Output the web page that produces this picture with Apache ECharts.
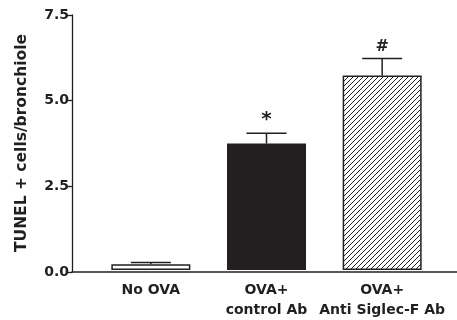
<!DOCTYPE html>
<html><head><meta charset="utf-8">
<script src="https://cdn.jsdelivr.net/npm/echarts@6/dist/echarts.min.js"></script>
<style>html,body{margin:0;padding:0;background:#fff}#c{width:457px;height:320px}</style>
</head><body><div id="c"></div>
<script>
const categories = ['No OVA', 'OVA+\ncontrol Ab', 'OVA+\nAnti Siglec-F Ab'];
const means = [0.17, 3.72, 5.72];
const sems = [0.05, 0.30, 0.50];
const marks = ['', '*', '#'];
const yTicks = [0, 2.5, 5.0, 7.5];

const ink = '#231f20';
const pc = document.createElement('canvas');
pc.width = 5; pc.height = 5;
const g = pc.getContext('2d');
g.fillStyle = '#fff'; g.fillRect(0,0,5,5);
g.strokeStyle = ink; g.lineWidth = 1.0;
g.beginPath();
g.moveTo(-1,6); g.lineTo(6,-1);
g.moveTo(-1,1); g.lineTo(1,-1);
g.moveTo(4,6); g.lineTo(6,4);
g.stroke();

const font = 'DejaVu Sans';
const chart = echarts.init(document.getElementById('c'));
chart.setOption({
  animation: false,
  backgroundColor: '#fff',
  grid: [
    {left: 72, right: 0, top: 15, bottom: 48},
    {left: 93, width: 347, top: 15, bottom: 48}
  ],
  xAxis: [
    {type: 'value', gridIndex: 0, min: 0, max: 1,
     axisLine: {show: true, onZero: false, lineStyle: {color: ink, width: 1.5}},
     axisTick: {show: false}, axisLabel: {show: false}, splitLine: {show: false}},
    {type: 'category', gridIndex: 1, data: categories,
     axisLine: {show: false}, axisTick: {show: false}, splitLine: {show: false},
     axisLabel: {interval: 0, color: ink, fontFamily: font, fontWeight: 'bold', fontSize: 14, margin: 10, lineHeight: 20}}
  ],
  yAxis: [
    {type: 'value', gridIndex: 0, min: 0, max: 7.5, interval: 2.5,
     axisLine: {show: true, lineStyle: {color: ink, width: 1.3}},
     axisTick: {show: true, length: 6, lineStyle: {color: ink, width: 1.3}},
     splitLine: {show: false},
     axisLabel: {color: ink, fontFamily: font, fontWeight: 'bold', fontSize: 14, margin: 3,
       formatter: v => v.toFixed(1)}},
    {type: 'value', gridIndex: 1, min: 0, max: 7.5, show: false}
  ],
  graphic: [{
    type: 'text', x: 22, y: 143, rotation: Math.PI/2,
    style: {text: 'TUNEL + cells/bronchiole', fill: ink, font: 'bold 15.5px "DejaVu Sans"',
      align: 'center', verticalAlign: 'middle'}
  }],
  series: [
    {type: 'bar', xAxisIndex: 1, yAxisIndex: 1, barWidth: 79,
     data: means.map((v, i) => ({
       value: v,
       itemStyle: i === 0 ? {color: '#fff', borderColor: ink, borderWidth: 1.5}
         : i === 1 ? {color: ink, borderWidth: 0}
         : {color: {image: pc, repeat: 'repeat'}, borderColor: ink, borderWidth: 1.5}
     }))},
    {type: 'custom', xAxisIndex: 1, yAxisIndex: 1, z: 5,
     data: means.map((v, i) => [i, v, sems[i]]),
     renderItem: (params, api) => {
       const i = api.value(0), m = api.value(1), s = api.value(2);
       const top = api.coord([i, m]);
       const hi = api.coord([i, m + s]);
       const hw = 20;
       const ch = [
         {type: 'line', shape: {x1: top[0], y1: top[1], x2: hi[0], y2: hi[1]}, style: {stroke: ink, lineWidth: 1.5}},
         {type: 'line', shape: {x1: hi[0] - hw, y1: hi[1], x2: hi[0] + hw, y2: hi[1]}, style: {stroke: ink, lineWidth: 1.5}}
       ];
       const mk = marks[params.dataIndex];
       if (mk) ch.push({type: 'text', x: hi[0], y: hi[1] - 4,
         style: {text: mk, fill: ink, font: 'bold ' + (mk === '*' ? 20 : 16) + 'px "DejaVu Sans"', align: 'center', verticalAlign: 'bottom'}});
       return {type: 'group', children: ch};
     }}
  ]
});
</script></body></html>
